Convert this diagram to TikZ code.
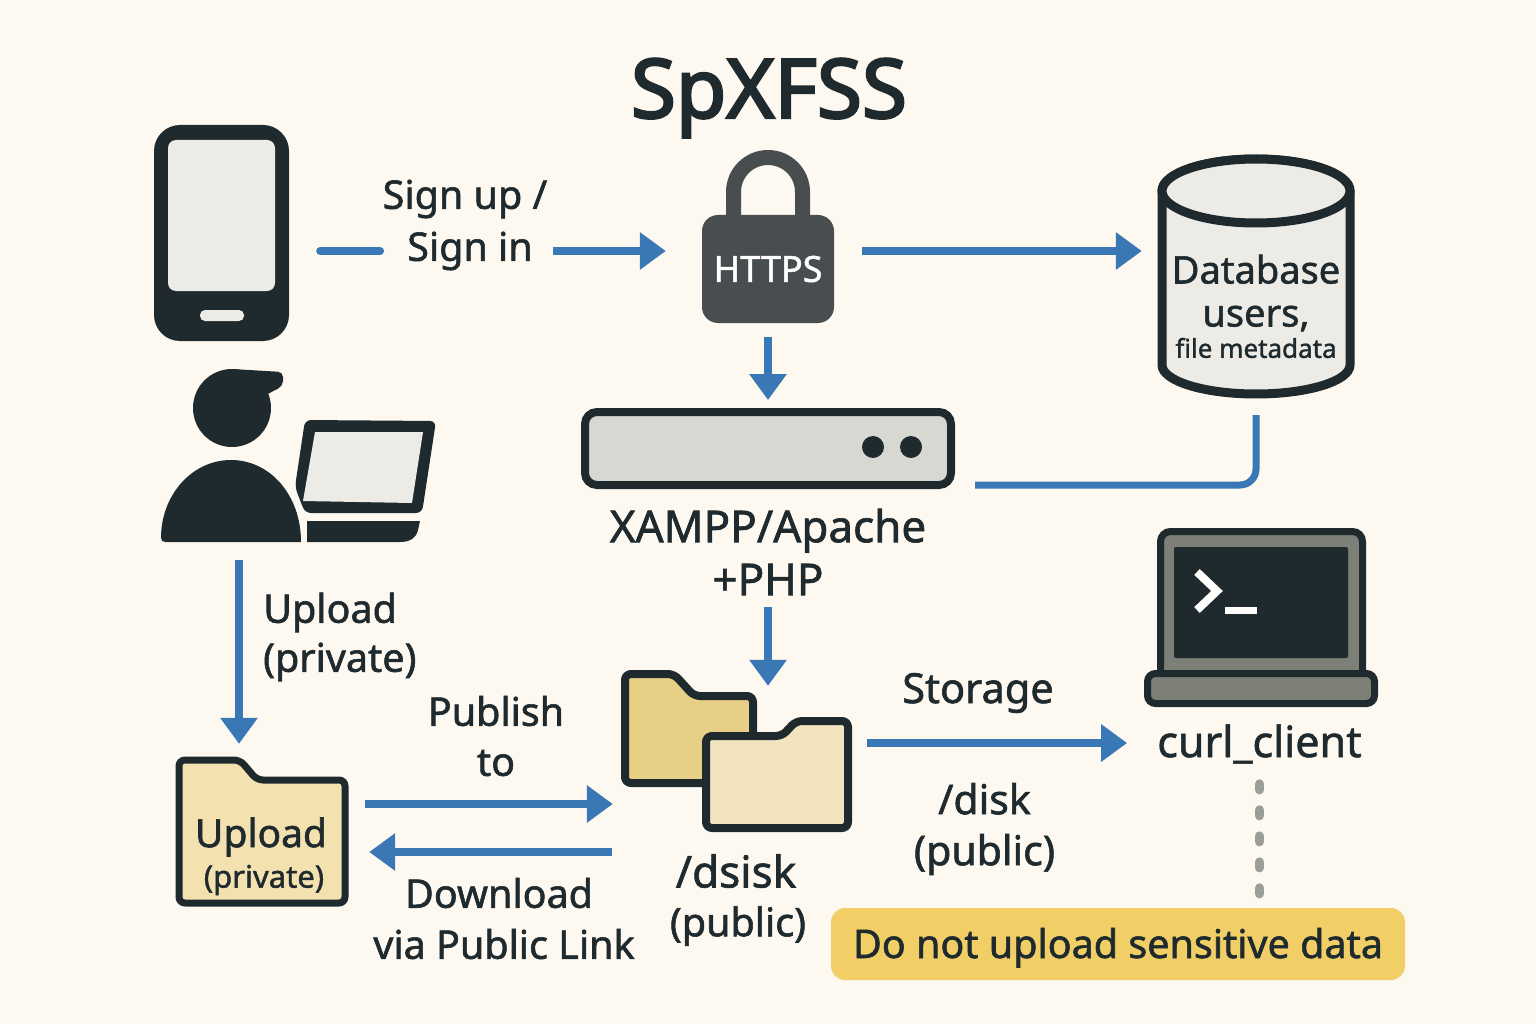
\documentclass[tikz,border=0pt]{standalone}
\usepackage{fontspec}
\usetikzlibrary{arrows.meta}
\setmainfont[FakeBold=1.4]{Noto Sans}
\newfontfamily\titlefont[FakeBold=3]{Noto Sans}
\definecolor{pagebg}{HTML}{FEF9F0}
\definecolor{ink}{HTML}{1E2A2E}
\definecolor{flowblue}{HTML}{3A78B5}
\definecolor{screengray}{HTML}{ECEBE6}
\definecolor{servergray}{HTML}{D8D8D2}
\definecolor{lockgray}{HTML}{484D50}
\definecolor{termgray}{HTML}{7C8076}
\definecolor{folderlight}{HTML}{F1E4BF}
\definecolor{folderdark}{HTML}{E8CF86}
\definecolor{folderpriv}{HTML}{F3E2B0}
\definecolor{warnyellow}{HTML}{F1CF66}
\definecolor{dashgray}{HTML}{9A9D98}
\tikzset{
  flowline/.style={line width=8pt,flowblue},
  flowarrow/.style={flowline,-{Triangle[length=26pt,width=36pt]}},
  lbl/.style={inner sep=0pt,text=ink,align=center,font=\fontsize{39.5}{50}\selectfont},
  spot/.style={inner sep=0pt,minimum width=#1},
  folderline/.style={line width=8pt,draw=ink,rounded corners=6pt,line join=round},
}
\begin{document}
\begin{tikzpicture}[x=1pt,y=-1pt]
  \useasboundingbox (0,0) rectangle (1536,1024);
  \fill[pagebg] (0,0) rectangle (1536,1024);

  \node (title) [lbl,font=\titlefont\fontsize{82}{86}\selectfont] at (769,98) {SpXFSS};

  \node (phone) [fill=ink,rounded corners=26pt,minimum width=135pt,minimum height=216pt,inner sep=0pt] at (221.5,233) {};
  \fill[screengray,rounded corners=8pt] (168,140) rectangle (275,291);
  \fill[screengray,rounded corners=5pt] (200,310) rectangle (244,321);

  \node (signup) [lbl] at (465,199) {Sign up /};
  \node (signin) [lbl] at (470,251) {Sign in};

  \fill[ink,rounded corners=6pt] (305,420) -- (436,421) -- (422,513) -- (305,513) -- (295,487) -- cycle;
  \fill[screengray] (315,432) -- (423,432) -- (412,503) -- (303,501) -- cycle;
  \fill[ink] (307,521) -- (420,521) -- (418,530) .. controls (416,538) and (410,542) .. (400,542) -- (307,542) -- cycle;
  \fill[ink] (232,408) circle (39pt);
  \fill[ink,rounded corners=5pt] (232,369) -- (283,372) -- (283,386) -- (262,397) -- (232,400) -- cycle;
  \draw[pagebg,line width=7pt,fill=ink] (161,538) .. controls (161,495) and (192,460) .. (231,460) .. controls (270,460) and (301,495) .. (301,542) -- (166,542) .. controls (163,542) and (161,541) .. (161,538) -- cycle;
  \fill[ink] (161,538) .. controls (161,495) and (192,460) .. (231,460) .. controls (270,460) and (301,495) .. (301,542) -- (166,542) .. controls (163,542) and (161,541) .. (161,538) -- cycle;
  \node (user) [spot=140pt,minimum height=173pt] at (231,455.5) {};

  \draw[lockgray,line width=15pt] (733.5,225) -- (733.5,192) arc[start angle=180,end angle=0,radius=34.5pt] -- (802.5,225);
  \node (lock) [fill=lockgray,rounded corners=16pt,minimum width=132pt,minimum height=108pt,inner sep=0pt,text=white,font=\fontsize{36}{38}\selectfont] at (768,269) {HTTPS};

  \draw[ink,line width=9pt,fill=screengray] (1162,191) -- (1162,365) arc[start angle=180,end angle=360,x radius=94pt,y radius=29pt] -- (1350,191) arc[start angle=0,end angle=180,x radius=94pt,y radius=32pt] -- cycle;
  \draw[ink,line width=9pt,fill=screengray] (1256,191) ellipse[x radius=94pt,y radius=32pt];
  \node (db) [spot=196pt,minimum height=244pt] at (1256,276) {};
  \node (dbname) [lbl,font=\fontsize{38}{43}\selectfont] at (1256,293) {Database\\users,};
  \node (dbmeta) [lbl,font=\fontsize{26}{30}\selectfont] at (1256,348) {file metadata};

  \node (server) [draw=ink,line width=8pt,fill=servergray,rounded corners=12pt,minimum width=366pt,minimum height=73pt,inner sep=0pt] at (768,448.5) {};
  \fill[ink] (873,447) circle (11pt);
  \fill[ink] (911,447) circle (11pt);
  \node (xampp) [lbl,font=\fontsize{44}{53}\selectfont] at (768,552) {XAMPP/Apache\\+PHP};

  \node (upfolder) [spot=172pt,minimum height=149pt] at (262,831.5) {};
  \draw[folderline,line width=7pt,fill=folderpriv] (179,760) -- (240,760) -- (257,780) -- (345,780) -- (345,903) -- (179,903) -- cycle;
  \node (uptext) [lbl,font=\fontsize{39}{42}\selectfont] at (261,837) {Upload};
  \node (uptext2) [lbl,font=\fontsize{31}{35}\selectfont] at (264,880) {(private)};
  \node (uplbl) [lbl,align=left,anchor=west,font=\fontsize{39.5}{49}\selectfont] at (263,637) {Upload\\(private)};

  \draw[folderline,fill=folderdark] (625,674) -- (674,674) -- (694,696) -- (753,696) -- (753,783) -- (625,783) -- cycle;
  \draw[folderline,fill=folderlight] (706,736) -- (782,736) -- (796,721) -- (848,721) -- (848,828) -- (706,828) -- cycle;
  \node (folders) [spot=231pt,minimum height=162pt] at (736.5,751) {};

  \node (publish) [lbl] at (496,736) {Publish\\to};
  \node (download) [lbl] at (499,893) {Download};
  \node (publink) [lbl] at (504,944) {via Public Link};
  \node (dsisk) [lbl,font=\fontsize{44}{48}\selectfont] at (736,871) {/dsisk};
  \node (dsiskpub) [lbl] at (738,926) {(public)};
  \node (storage) [lbl,font=\fontsize{41.5}{46}\selectfont] at (978,693) {Storage};
  \node (disk) [lbl,font=\fontsize{41}{51}\selectfont] at (984.5,829) {/disk\\(public)};

  \draw[ink,line width=7pt,fill=termgray,rounded corners=10pt] (1160.5,674) -- (1160.5,531.5) -- (1362.5,531.5) -- (1362.5,674);
  \fill[ink,rounded corners=2pt] (1174,547) rectangle (1348,658);
  \draw[white!90!pagebg,line width=8pt,line join=miter] (1197,572) -- (1217,591) -- (1197,610);
  \fill[white!90!pagebg] (1225,607) rectangle (1257,614);
  \draw[ink,line width=7pt,fill=termgray,rounded corners=8pt] (1147.5,673.5) rectangle (1374.5,703.5);
  \node (curl) [lbl,font=\fontsize{43}{46}\selectfont] at (1259.5,744) {curl\_client};

  \node (warn) [fill=warnyellow,rounded corners=14pt,minimum width=574pt,minimum height=72pt,inner sep=0pt,text=ink,font=\fontsize{39.5}{42}\selectfont] at (1118,944) {\raisebox{-14pt}[0pt][0pt]{Do not upload sensitive data}};

  \coordinate (storeout) at ([xshift=15pt,yshift=8pt]folders.east);
  \draw[flowline,line cap=round] ([xshift=31pt]phone.east |- signin) -- ([xshift=-27pt]signin.west);
  \draw[flowarrow] ([xshift=20pt]signin.east) -- ([xshift=-36pt]lock.west |- signin);
  \draw[flowarrow] ([xshift=28pt]lock.east |- signin) -- ([xshift=-16pt]db.west |- signin);
  \draw[flowarrow] ([yshift=-14pt]lock.south) -- ([yshift=8pt]server.north);
  \draw[flowline,line width=7pt,rounded corners=16pt] ([yshift=-17pt]db.south) |- ([xshift=20pt,yshift=-36.5pt]server.east);
  \draw[flowarrow] ([yshift=-12pt]xampp.south) -- ([xshift=31.5pt,yshift=-16pt]folders.north);
  \draw[flowarrow] ([xshift=8pt,yshift=-18pt]user.south) -- ([xshift=-23pt,yshift=13pt]upfolder.north);
  \draw[flowarrow] ([xshift=17pt,yshift=27.5pt]upfolder.east) -- ([xshift=-8pt,yshift=-53pt]folders.west);
  \draw[flowarrow] ([xshift=-9pt,yshift=-101pt]folders.west) -- ([xshift=21pt,yshift=-20.5pt]upfolder.east);
  \draw[flowarrow] (storeout) -- ([xshift=-30pt]curl.west |- storeout);
  \draw[dashgray,line width=9pt,line cap=round,dash pattern=on 6pt off 20pt,shorten <=20pt,shorten >=6pt] (curl.south) -- (curl.south |- warn.north);
\end{tikzpicture}
\end{document}
